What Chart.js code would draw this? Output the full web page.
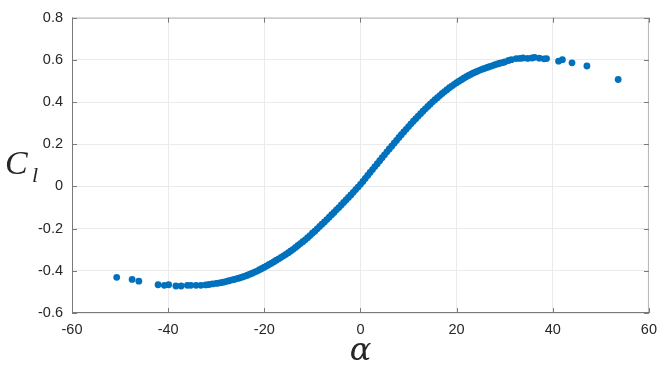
<!DOCTYPE html>
<html>
<head>
<meta charset="utf-8">
<script src="https://cdn.jsdelivr.net/npm/chart.js@4/dist/chart.umd.min.js"></script>
<style>
  html, body { margin: 0; padding: 0; background: #fff; }
  #wrap { width: 665px; height: 366px; position: relative; }
</style>
</head>
<body>
<div id="wrap"><canvas id="cl-chart"></canvas></div>
<script>
// angle of attack (deg) and lift coefficient
var alphaDeg = [
  -50.7, -47.5, -46.1, -42.1, -40.8, -39.9, -38.4, -37.3, -36.0, -35.3, -34.2, -33.2, -32.2, -31.5, -30.8,
  -30, -29.5, -29, -28.5, -28, -27.5, -27, -26.5, -26, -25.5, -25, -24.5, -24, -23.5, -23, -22.5,
  -22, -21.5, -21, -20.5, -20, -19.5, -19, -18.5, -18, -17.5, -17, -16.5, -16, -15.5, -15, -14.5,
  -14, -13.5, -13, -12.5, -12, -11.5, -11, -10.5, -10, -9.5, -9, -8.5, -8, -7.5, -7, -6.5,
  -6, -5.5, -5, -4.5, -4, -3.5, -3, -2.5, -2, -1.5, -1, -0.5,
  0, 0.5, 1, 1.5, 2, 2.5, 3, 3.5, 4, 4.5, 5, 5.5, 6, 6.5, 7, 7.5,
  8, 8.5, 9, 9.5, 10, 10.5, 11, 11.5, 12, 12.5, 13, 13.5, 14, 14.5, 15, 15.5,
  16, 16.5, 17, 17.5, 18, 18.5, 19, 19.5, 20, 20.5, 21, 21.5, 22, 22.5, 23, 23.5,
  24, 24.5, 25, 25.5, 26, 26.5, 27, 27.5, 28, 28.5, 29, 29.5, 30,
  30.8, 31.4, 32.4, 33.2, 33.8, 34.8, 35.7, 36.2, 37.2, 38.2, 38.7, 41.2, 42.0, 44.0, 47.1, 53.6
];
var liftCoef = [
  -0.431, -0.441, -0.449, -0.466, -0.469, -0.466, -0.472, -0.472, -0.469, -0.469, -0.469, -0.469, -0.467, -0.465, -0.462,
  -0.460, -0.458, -0.456, -0.454, -0.451, -0.448, -0.445, -0.442, -0.439, -0.436, -0.433, -0.429, -0.425, -0.421, -0.416, -0.411,
  -0.406, -0.401, -0.395, -0.389, -0.383, -0.377, -0.370, -0.364, -0.357, -0.350, -0.343, -0.336, -0.329, -0.322, -0.314, -0.306,
  -0.298, -0.289, -0.280, -0.271, -0.262, -0.253, -0.243, -0.233, -0.222, -0.212, -0.201, -0.190, -0.179, -0.168, -0.157, -0.146,
  -0.134, -0.123, -0.111, -0.100, -0.088, -0.076, -0.064, -0.052, -0.040, -0.028, -0.015, -0.003,
  0.010, 0.024, 0.038, 0.052, 0.066, 0.080, 0.094, 0.108, 0.122, 0.136, 0.150, 0.164, 0.178, 0.191, 0.205, 0.218,
  0.232, 0.245, 0.258, 0.271, 0.284, 0.297, 0.309, 0.321, 0.333, 0.345, 0.357, 0.368, 0.379, 0.390, 0.401, 0.411,
  0.421, 0.431, 0.441, 0.450, 0.459, 0.468, 0.476, 0.484, 0.492, 0.499, 0.506, 0.513, 0.520, 0.526, 0.532, 0.538,
  0.543, 0.548, 0.553, 0.557, 0.561, 0.565, 0.569, 0.573, 0.577, 0.581, 0.584, 0.587, 0.590,
  0.597, 0.601, 0.606, 0.607, 0.609, 0.607, 0.609, 0.612, 0.608, 0.605, 0.606, 0.594, 0.601, 0.586, 0.571, 0.507
];
var xTicks = [-60, -40, -20, 0, 20, 40, 60];
var yTicks = [-0.6, -0.4, -0.2, 0, 0.2, 0.4, 0.6, 0.8];

var points = alphaDeg.map(function(a, i) { return { x: a, y: liftCoef[i] }; });

// MATLAB style box with inward ticks + latex-ish axis labels
var boxPlugin = {
  id: 'box',
  afterDraw: function(chart) {
    var ctx = chart.ctx, a = chart.chartArea;
    var xs = chart.scales.x, ys = chart.scales.y;
    ctx.save();
    ctx.lineWidth = 1;
    ctx.strokeStyle = '#b5b5b5';
    ctx.beginPath();
    ctx.moveTo(a.left, a.top + 0.5); ctx.lineTo(a.right, a.top + 0.5);
    ctx.moveTo(a.right - 0.5, a.top); ctx.lineTo(a.right - 0.5, a.bottom);
    ctx.stroke();
    ctx.strokeStyle = '#7a7a7a';
    ctx.beginPath();
    ctx.moveTo(a.left + 0.5, a.top); ctx.lineTo(a.left + 0.5, a.bottom);
    ctx.moveTo(a.left, a.bottom - 0.5); ctx.lineTo(a.right, a.bottom - 0.5);
    ctx.stroke();
    ctx.beginPath();
    xTicks.forEach(function(t) {
      var px = Math.round(xs.getPixelForValue(t)) + 0.5;
      ctx.moveTo(px, a.bottom); ctx.lineTo(px, a.bottom - 5);
      ctx.moveTo(px, a.top); ctx.lineTo(px, a.top + 5);
    });
    yTicks.forEach(function(t) {
      var py = Math.round(ys.getPixelForValue(t)) + 0.5;
      ctx.moveTo(a.left, py); ctx.lineTo(a.left + 5, py);
      ctx.moveTo(a.right, py); ctx.lineTo(a.right - 5, py);
    });
    ctx.stroke();

    ctx.fillStyle = '#262626';
    ctx.textAlign = 'center';
    ctx.textBaseline = 'alphabetic';
    ctx.font = 'italic 32px "DejaVu Serif", "Liberation Serif", serif';
    ctx.fillText('\u03b1', (a.left + a.right) / 2, 360);

    // C_l, upright like the reference
    ctx.textAlign = 'left';
    ctx.font = 'italic 34px "Liberation Serif", serif';
    ctx.fillText('C', 5, 174);
    ctx.font = 'italic 22px "Liberation Serif", serif';
    ctx.fillText('l', 32, 182);
    ctx.restore();
  }
};

function fmt(v) {
  if (Math.abs(v) < 1e-9) return '0';
  return Math.abs(v) < 1 ? v.toFixed(1) : String(v);
}

new Chart(document.getElementById('cl-chart').getContext('2d'), {
  type: 'scatter',
  data: {
    datasets: [{
      data: points,
      backgroundColor: '#0072BD',
      borderWidth: 0,
      pointRadius: 3.4,
      pointHoverRadius: 3.4
    }]
  },
  options: {
    responsive: true, maintainAspectRatio: false, animation: false,
    layout: { padding: { top: 6, right: 11, left: 0, bottom: 0 } },
    plugins: { legend: { display: false }, tooltip: { enabled: false } },
    scales: {
      x: {
        type: 'linear', min: -60, max: 60,
        afterFit: function(s) { s.height = 53; },
        afterBuildTicks: function(s) { s.ticks = xTicks.map(function(v) { return { value: v }; }); },
        grid: { color: '#ebebeb', drawTicks: false },
        border: { display: false },
        ticks: { color: '#262626', padding: 8, maxRotation: 0, font: { family: '"Liberation Sans", Arial, sans-serif', size: 14.5 } }
      },
      y: {
        type: 'linear', min: -0.6, max: 0.8,
        afterFit: function(s) { s.width = 72; },
        afterBuildTicks: function(s) { s.ticks = yTicks.map(function(v) { return { value: v }; }); },
        grid: { color: '#ebebeb', drawTicks: false },
        border: { display: false },
        ticks: { color: '#262626', padding: 9, callback: function(v) { return fmt(v); }, font: { family: '"Liberation Sans", Arial, sans-serif', size: 14.5 } }
      }
    }
  },
  plugins: [boxPlugin]
});
</script>
</body>
</html>
